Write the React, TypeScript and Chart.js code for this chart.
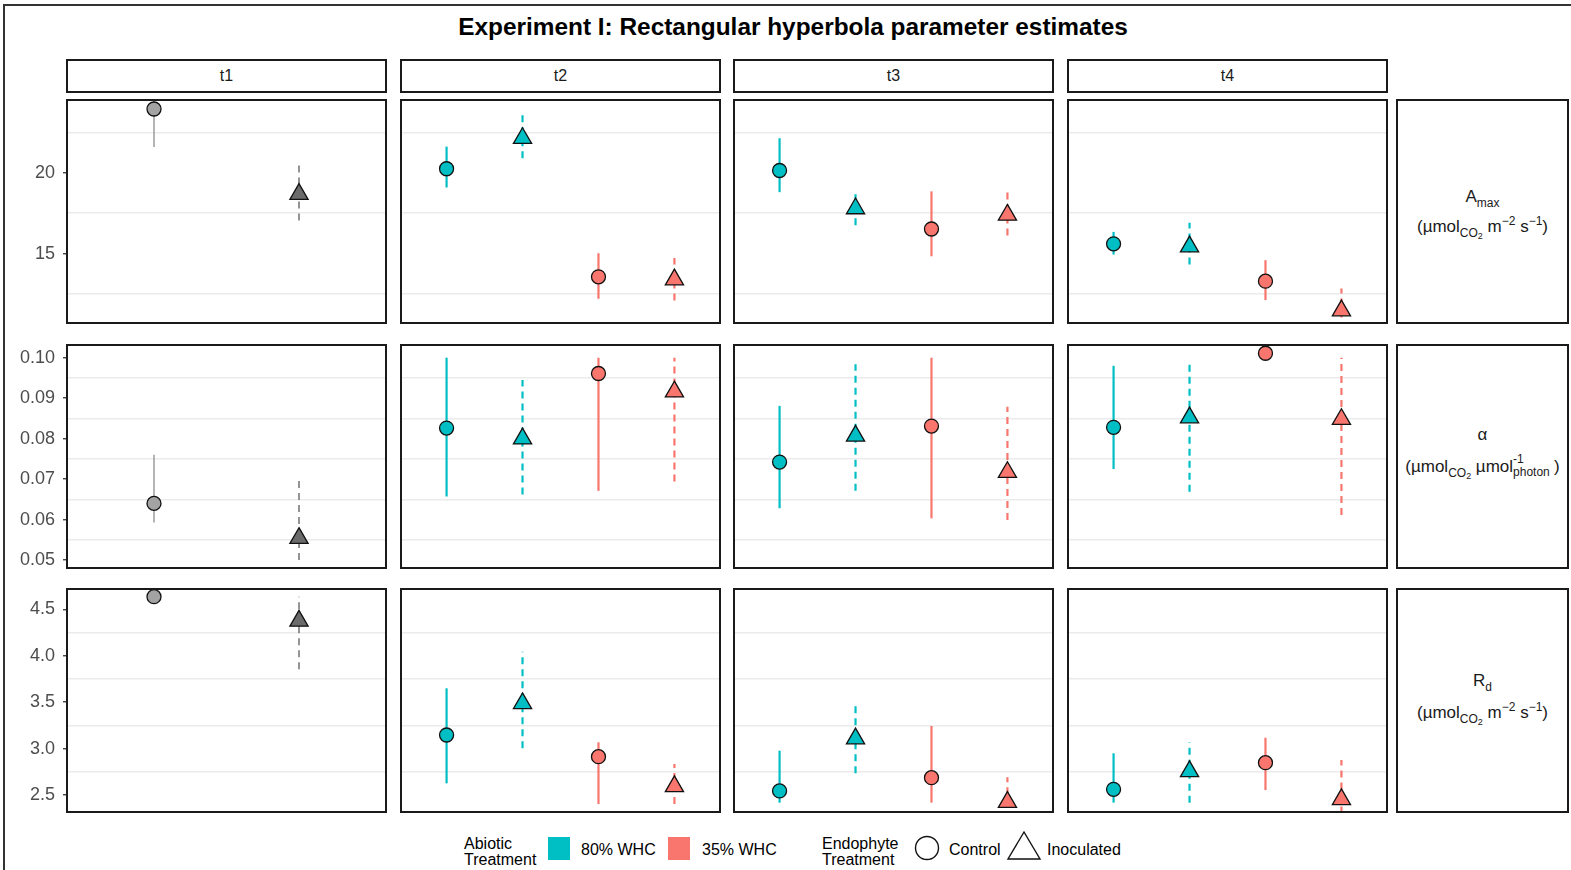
import React, { useEffect, useRef } from 'react';
import { Chart, registerables } from 'chart.js';
Chart.register(...registerables);

// ---------- data ----------
const timepoints = ['t1', 't2', 't3', 't4'];
const t1Groups = ['Control', 'Inoculated'];
const waterGroups = ['80% WHC', '80% WHC', '35% WHC', '35% WHC'];
const endophyteGroups = ['Control', 'Inoculated', 'Control', 'Inoculated'];

const amaxEst = [[23.95, 18.68], [20.25, 22.14, 13.56, 13.39], [20.14, 17.79, 16.52, 17.39], [15.6, 15.43, 13.29, 11.47]];
const amaxLo = [[21.6, 17.04], [19.09, 20.9, 12.2, 12.1], [18.8, 16.75, 14.83, 16.11], [14.94, 14.32, 12.12, 10.3]];
const amaxHi = [[26.3, 20.6], [21.62, 23.58, 15.02, 14.73], [22.14, 18.95, 18.85, 18.85], [16.34, 16.9, 14.59, 12.84]];

const alphaEst = [[0.064, 0.0554], [0.0826, 0.08, 0.0961, 0.0916], [0.0742, 0.0807, 0.0831, 0.0717], [0.0828, 0.0852, 0.1011, 0.0848]];
const alphaLo = [[0.0593, 0.05], [0.0657, 0.0662, 0.0671, 0.0694], [0.0628, 0.0671, 0.0603, 0.0599], [0.0725, 0.0669, 0.0998, 0.0611]];
const alphaHi = [[0.076, 0.0695], [0.1, 0.0945, 0.1, 0.1], [0.0881, 0.0984, 0.1, 0.0879], [0.098, 0.0992, 0.1025, 0.1]];

const rdEst = [[4.636, 4.375], [3.146, 3.486, 2.912, 2.593], [2.543, 3.107, 2.686, 2.423], [2.561, 2.754, 2.848, 2.452]];
const rdLo = [[4.6, 3.854], [2.625, 3.003, 2.403, 2.403], [2.417, 2.733, 2.417, 2.25], [2.417, 2.417, 2.553, 2.3]];
const rdHi = [[4.7, 4.636], [3.649, 4.043, 3.067, 2.833], [2.977, 3.494, 3.243, 2.69], [2.949, 3.067, 3.117, 2.877]];

const amaxRange = [10.7, 24.506];
const alphaRange = [0.04803, 0.10314];
const rdRange = [2.3164, 4.7187];

const amaxTicks = [15, 20];
const amaxTickLabels = ['15', '20'];
const amaxMinor = [12.5, 17.5, 22.5];
const alphaTicks = [0.05, 0.06, 0.07, 0.08, 0.09, 0.1];
const alphaTickLabels = ['0.05', '0.06', '0.07', '0.08', '0.09', '0.10'];
const alphaMinor = [0.055, 0.065, 0.075, 0.085, 0.095];
const rdTicks = [2.5, 3.0, 3.5, 4.0, 4.5];
const rdTickLabels = ['2.5', '3.0', '3.5', '4.0', '4.5'];
const rdMinor = [2.75, 3.25, 3.75, 4.25];

const ROWS = [
  { est: amaxEst, lo: amaxLo, hi: amaxHi, range: amaxRange, ticks: amaxTicks, labels: amaxTickLabels, minor: amaxMinor },
  { est: alphaEst, lo: alphaLo, hi: alphaHi, range: alphaRange, ticks: alphaTicks, labels: alphaTickLabels, minor: alphaMinor },
  { est: rdEst, lo: rdLo, hi: rdHi, range: rdRange, ticks: rdTicks, labels: rdTickLabels, minor: rdMinor },
];

// ---------- style / layout ----------
const FONT = '"Liberation Sans", Arial, Helvetica, sans-serif';
const TEAL = '#00BFC4';
const SALMON = '#F8766D';
const GRAY_FILL = ['#a3a3a3', '#6b6b6b'];
const GRAY_BAR = ['#a3a3a3', '#7a7a7a'];
const PANEL_X = [66, 400, 733, 1067];
const PANEL_Y = [99, 344, 588];
const PANEL_W = 321;
const PANEL_H = 225;
const STRIP_X = 1396;
const STRIP_W = 173;

const panelBorder = {
  id: 'panelBorder',
  afterDraw(chart: any) {
    const { ctx, chartArea } = chart;
    ctx.save();
    ctx.strokeStyle = '#1a1a1a';
    ctx.lineWidth = 2;
    ctx.strokeRect(chartArea.left, chartArea.top, chartArea.right - chartArea.left, chartArea.bottom - chartArea.top);
    ctx.restore();
  },
};

const near = (a: number, b: number) => Math.abs(a - b) < 1e-9;

function Panel({ row, col }: { row: number; col: number }) {
  const ref = useRef<HTMLCanvasElement>(null);
  const left = col === 0 ? 0 : PANEL_X[col];
  const width = col === 0 ? PANEL_X[0] + PANEL_W : PANEL_W;
  useEffect(() => {
    const r = ROWS[row];
    const est = r.est[col];
    const lo = r.lo[col];
    const hi = r.hi[col];
    const n = est.length;
    const datasets: any[] = [];
    for (let i = 0; i < n; i++) {
      const endo = col === 0 ? t1Groups[i] : endophyteGroups[i];
      const isControl = endo === 'Control';
      const color = col === 0 ? GRAY_BAR[i] : waterGroups[i] === '80% WHC' ? TEAL : SALMON;
      const fill = col === 0 ? GRAY_FILL[i] : color;
      const x = i + 1;
      datasets.push({
        label: endo + ' interval',
        data: [{ x, y: lo[i] }, { x, y: hi[i] }],
        showLine: true,
        borderColor: color,
        borderWidth: col === 0 ? 1.6 : 2.2,
        borderDash: isControl ? [] : [7, 5],
        pointRadius: 0,
        clip: 0,
        order: 2,
      });
      datasets.push({
        label: endo,
        data: [{ x, y: est[i] }],
        showLine: false,
        pointStyle: isControl ? 'circle' : 'triangle',
        pointRadius: isControl ? 7 : 10.5,
        pointBackgroundColor: fill,
        pointBorderColor: '#111',
        pointBorderWidth: 1.3,
        order: 1,
      });
    }
    const allTicks = [...r.ticks, ...r.minor].sort((a, b) => a - b);
    const isMajor = (v: number) => r.ticks.some((t) => near(t, v));
    const chart = new Chart(ref.current!, {
      type: 'scatter',
      data: { datasets },
      options: {
        animation: false,
        responsive: false,
        maintainAspectRatio: false,
        devicePixelRatio: 1,
        events: [],
        layout: { autoPadding: false, padding: { left: 0, right: 1, top: 1, bottom: 1 } },
        plugins: { legend: { display: false }, tooltip: { enabled: false } },
        scales: {
          x: { type: 'linear', min: 0.4, max: n + 0.6, display: false },
          y: {
            type: 'linear',
            min: r.range[0],
            max: r.range[1],
            afterBuildTicks: (s: any) => {
              s.ticks = allTicks.map((v) => ({ value: v }));
            },
            afterFit: (s: any) => {
              s.width = col === 0 ? PANEL_X[0] + 1 : 1;
              s.paddingTop = 0;
              s.paddingBottom = 0;
            },
            border: { display: false },
            grid: {
              color: (c: any) => (c.tick && isMajor(c.tick.value) ? 'rgba(0,0,0,0)' : '#ebebeb'),
              lineWidth: 1.5,
              drawTicks: col === 0,
              tickLength: 4,
              tickWidth: 1.3,
              tickColor: (c: any) => (c.tick && isMajor(c.tick.value) ? '#333333' : 'rgba(0,0,0,0)'),
            },
            ticks: {
              display: col === 0,
              autoSkip: false,
              padding: 8,
              color: '#4d4d4d',
              font: { family: FONT, size: 18 },
              callback: (v: any) => {
                const idx = r.ticks.findIndex((t) => near(t, Number(v)));
                return idx >= 0 ? r.labels[idx] : '';
              },
            },
          },
        },
      },
      plugins: [panelBorder],
    } as any);
    return () => chart.destroy();
  }, [row, col]);
  return (
    <canvas
      ref={ref}
      width={width}
      height={PANEL_H}
      style={{ position: 'absolute', left, top: PANEL_Y[row], width, height: PANEL_H }}
    />
  );
}

const sub = (fs: number, dy: number): React.CSSProperties => ({ fontSize: fs, position: 'relative', top: dy, lineHeight: 0 });

function Unit1() {
  return (
    <span>
      (µmol<span style={sub(12, 5)}>CO<span style={sub(9, 2)}>2</span></span> m<span style={sub(12, -7)}>−2</span> s<span style={sub(12, -7)}>−1</span>)
    </span>
  );
}

function Unit2() {
  return (
    <span>
      (µmol<span style={sub(12, 5)}>CO<span style={sub(9, 2)}>2</span></span> µmol
      <span style={{ display: 'inline-block', position: 'relative', width: 41, height: 10 }}>
        <span style={{ position: 'absolute', left: 0, top: -9, fontSize: 12, lineHeight: '12px' }}>-1</span>
        <span style={{ position: 'absolute', left: 0, top: 4, fontSize: 12, lineHeight: '12px' }}>photon</span>
      </span>
      )
    </span>
  );
}

const stripLines = [
  { l1: <span>A<span style={sub(12, 5)}>max</span></span>, l2: <Unit1 />, d1: -15, d2: 15 },
  { l1: <span>α</span>, l2: <Unit2 />, d1: -22, d2: 10 },
  { l1: <span>R<span style={sub(12, 5)}>d</span></span>, l2: <Unit1 />, d1: -20, d2: 12 },
];

export default function App() {
  const boxStyle: React.CSSProperties = {
    position: 'absolute',
    border: '2px solid #1a1a1a',
    boxSizing: 'border-box',
    background: '#fff',
  };
  const txt: React.CSSProperties = { position: 'absolute', whiteSpace: 'nowrap', color: '#1a1a1a' };
  return (
    <div style={{ position: 'fixed', left: 0, top: 0, width: 1571, height: 870, background: '#fff', fontFamily: FONT, overflow: 'hidden' }}>
      <div style={{ position: 'absolute', left: 3, top: 4, width: 1600, height: 900, borderTop: '2px solid #333', borderLeft: '2px solid #333' }} />
      <div style={{ ...txt, left: 0, width: 1586, top: 13, lineHeight: '28px', textAlign: 'center', fontSize: 24.4, fontWeight: 'bold', color: '#000' }}>
        Experiment I: Rectangular hyperbola parameter estimates
      </div>
      {timepoints.map((t, c) => (
        <div key={t} style={{ ...boxStyle, left: PANEL_X[c], top: 59, width: PANEL_W, height: 34, display: 'flex', alignItems: 'center', justifyContent: 'center', fontSize: 16, color: '#1a1a1a' }}>
          {t}
        </div>
      ))}
      {ROWS.map((_, r) =>
        timepoints.map((t, c) => <Panel key={r + '-' + c} row={r} col={c} />)
      )}
      {stripLines.map((s, r) => {
        const cy = PANEL_Y[r] + PANEL_H / 2;
        return (
          <React.Fragment key={'s' + r}>
            <div style={{ ...boxStyle, left: STRIP_X, top: PANEL_Y[r], width: STRIP_W, height: PANEL_H }} />
            <div style={{ ...txt, left: STRIP_X, width: STRIP_W, textAlign: 'center', top: cy + s.d1 - 10, lineHeight: '20px', fontSize: 17 }}>{s.l1}</div>
            <div style={{ ...txt, left: STRIP_X, width: STRIP_W, textAlign: 'center', top: cy + s.d2 - 10, lineHeight: '20px', fontSize: 17 }}>{s.l2}</div>
          </React.Fragment>
        );
      })}
      {/* legend */}
      <div style={{ ...txt, left: 464, top: 836, fontSize: 16, lineHeight: '16px', color: '#000' }}>Abiotic<br />Treatment</div>
      <div style={{ position: 'absolute', left: 548, top: 837, width: 22, height: 23, background: TEAL }} />
      <div style={{ ...txt, left: 581, top: 840, fontSize: 16, lineHeight: '20px', color: '#000' }}>80% WHC</div>
      <div style={{ position: 'absolute', left: 668, top: 837, width: 22, height: 23, background: SALMON }} />
      <div style={{ ...txt, left: 702, top: 840, fontSize: 16, lineHeight: '20px', color: '#000' }}>35% WHC</div>
      <div style={{ ...txt, left: 822, top: 836, fontSize: 16, lineHeight: '16px', color: '#000' }}>Endophyte<br />Treatment</div>
      <svg style={{ position: 'absolute', left: 912, top: 833 }} width={30} height={30}>
        <circle cx={15} cy={15} r={11.5} fill="none" stroke="#111" strokeWidth={1.4} />
      </svg>
      <div style={{ ...txt, left: 949, top: 840, fontSize: 16, lineHeight: '20px', color: '#000' }}>Control</div>
      <svg style={{ position: 'absolute', left: 1006, top: 830 }} width={36} height={32}>
        <polygon points="18,2 34,29 2,29" fill="none" stroke="#111" strokeWidth={1.4} />
      </svg>
      <div style={{ ...txt, left: 1047, top: 840, fontSize: 16, lineHeight: '20px', color: '#000' }}>Inoculated</div>
    </div>
  );
}
